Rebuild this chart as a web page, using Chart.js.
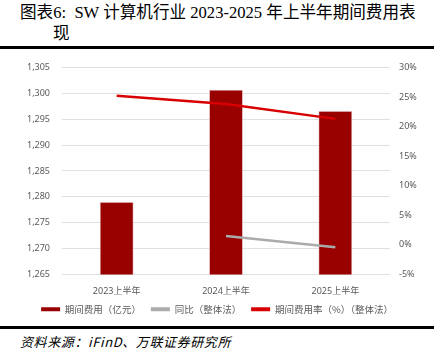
<!DOCTYPE html>
<html>
<head>
<meta charset="utf-8">
<script src="https://cdn.jsdelivr.net/npm/chart.js@4"></script>
<style>
  body { margin: 0; width: 434px; height: 359px; background: #fff; position: relative; overflow: hidden; }
  #titulo { position: absolute; left: 20px; top: 2px; width: 414px; font-family: "Liberation Serif", "Noto Sans CJK SC", serif; font-size: 16.6px; line-height: 21px; color: #000; }
  #titulo .l2 { padding-left: 33px; }
  .raya { position: absolute; left: 0; width: 434px; height: 3px; background: #000; }
  #caja { position: absolute; left: 0; top: 50px; width: 434px; height: 274px; }
  #fuente { position: absolute; left: 20px; top: 332px; font-family: "Noto Sans CJK SC", sans-serif; font-style: italic; font-size: 13px; letter-spacing: 0.6px; color: #000; }
</style>
</head>
<body>
<div id="titulo">图表6:&nbsp; SW 计算机行业 2023-2025 年上半年期间费用表<div class="l2">现</div></div>
<div class="raya" style="top:46px"></div>
<div id="caja"><canvas id="grafico"></canvas></div>
<div class="raya" style="top:326px"></div>
<div id="fuente">资料来源：iFinD、万联证券研究所</div>
<script>
// datos
const periodos = ['2023上半年', '2024上半年', '2025上半年'];
const gastos = [1279.0, 1300.7, 1296.6];      // 期间费用（亿元）
const yoy = [null, 1.5, -0.4];                // 同比（整体法） %
const tasaGasto = [25.2, 23.8, 21.3];         // 期间费用率（%）（整体法）

const gris = '#595959';
const fuenteTick = { family: '"Noto Sans", "Noto Sans CJK SC", sans-serif', size: 9 };

const ctx = document.getElementById('grafico').getContext('2d');
new Chart(ctx, {
    type: 'bar',
    data: {
        labels: periodos,
        datasets: [
            {
                type: 'line', label: '期间费用率（%）（整体法）', data: tasaGasto, yAxisID: 'y2',
                borderColor: '#D80000', backgroundColor: '#D80000', borderWidth: 2.5,
                pointRadius: 0, tension: 0, order: 0
            },
            {
                type: 'line', label: '同比（整体法）', data: yoy, yAxisID: 'y2',
                borderColor: '#ABABAB', backgroundColor: '#ABABAB', borderWidth: 2.5,
                pointRadius: 0, tension: 0, order: 1
            },
            {
                type: 'bar', label: '期间费用（亿元）', data: gastos, yAxisID: 'y',
                backgroundColor: '#990000', borderColor: '#E8C8C8', borderWidth: 0.8,
                barPercentage: 0.31, categoryPercentage: 1, order: 2
            }
        ]
    },
    options: {
        responsive: true,
        maintainAspectRatio: false,
        animation: false,
        layout: { padding: { top: 12, left: 0, right: 0, bottom: 0 } },
        plugins: {
            tooltip: { enabled: false },
            legend: {
                position: 'bottom',
                labels: {
                    color: gris,
                    font: { family: '"Noto Sans CJK SC", sans-serif', size: 9.5 },
                    boxWidth: 19,
                    boxHeight: 4,
                    padding: 10,
                    generateLabels: chart => [2, 1, 0].map(i => {
                        const ds = chart.data.datasets[i];
                        return {
                            text: ds.label, fillStyle: ds.backgroundColor, strokeStyle: ds.backgroundColor,
                            lineWidth: 0, datasetIndex: i, fontColor: gris
                        };
                    })
                }
            }
        },
        scales: {
            x: {
                grid: { display: false },
                border: { display: false },
                ticks: { color: gris, font: fuenteTick, padding: 4 },
                afterFit: s => { s.height = 20; }
            },
            y: {
                position: 'left',
                min: 1265, max: 1305,
                ticks: {
                    stepSize: 5, color: gris, font: fuenteTick, padding: 12,
                    callback: v => v.toLocaleString('en-US')
                },
                grid: { color: '#E0E0E0', lineWidth: 1, drawTicks: false },
                border: { display: false },
                afterFit: s => { s.width = 62; }
            },
            y2: {
                position: 'right',
                min: -5, max: 30,
                ticks: { stepSize: 5, color: gris, font: fuenteTick, padding: 9, callback: v => v + '%' },
                grid: { display: false, drawTicks: false },
                border: { display: false },
                afterFit: s => { s.width = 44; }
            }
        }
    }
});
</script>
</body>
</html>
